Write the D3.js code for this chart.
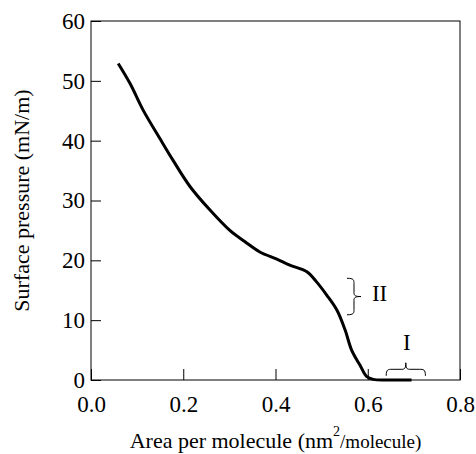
<!DOCTYPE html>
<html>
<head>
<meta charset="utf-8">
<script src="https://cdn.jsdelivr.net/npm/d3@7"></script>
<style>
  body { margin: 0; background: #fff; }
  text { font-family: "Liberation Serif", "Times New Roman", serif; fill: #000; }
</style>
</head>
<body>
<svg id="chart"></svg>
<script>
// isotherm
const area = [0.059, 0.085, 0.113, 0.149, 0.178, 0.215, 0.258, 0.301, 0.334, 0.366, 0.403, 0.431, 0.468, 0.489, 0.511, 0.533, 0.551, 0.565, 0.583, 0.598, 0.612, 0.64, 0.695]
const pressure = [52.9, 49.5, 45.1, 40.4, 36.7, 32.3, 28.4, 25.0, 23.1, 21.4, 20.2, 19.2, 18.1, 16.4, 14.2, 11.7, 8.35, 5.0, 2.5, 0.55, 0.1, 0.0, 0.0]
const xTicks = [0, 0.2, 0.4, 0.6, 0.8]
const yTicks = [0, 10, 20, 30, 40, 50, 60]
const regionLabels = ["II", "I"]

const w = 476
const h = 454
const margin = { top: 21, right: 16, bottom: 74, left: 91 }

const svg = d3.select("#chart").attr("width", w).attr("height", h)

const x = d3.scaleLinear().domain([0, 0.8]).range([margin.left, w - margin.right])
const y = d3.scaleLinear().domain([0, 60]).range([h - margin.bottom, margin.top])

// frame
svg.append("rect")
  .attr("x", x(0)).attr("y", y(60))
  .attr("width", x(0.8) - x(0)).attr("height", y(0) - y(60))
  .attr("fill", "none").attr("stroke", "#000").attr("stroke-width", 1)

const xAxis = d3.axisBottom(x).tickValues(xTicks).tickFormat(d3.format(".1f"))
  .tickSizeInner(-11).tickSizeOuter(0).tickPadding(16)
const yAxis = d3.axisLeft(y).tickValues(yTicks)
  .tickSizeInner(-10).tickSizeOuter(0).tickPadding(16)

const gx = svg.append("g").attr("transform", `translate(0,${y(0)})`).call(xAxis)
const gy = svg.append("g").attr("transform", `translate(${x(0)},0)`).call(yAxis)
gx.select(".domain").remove()
gy.select(".domain").remove()
svg.selectAll(".tick text").attr("font-family", "Liberation Serif").attr("font-size", 23)
svg.selectAll(".tick line").attr("stroke", "#000")
gy.selectAll(".tick text").attr("x", -6)

// curve
const line = d3.line().x((d, i) => x(area[i])).y(d => y(d)).curve(d3.curveCatmullRom.alpha(0.5))
svg.append("path")
  .datum(pressure)
  .attr("d", line)
  .attr("fill", "none").attr("stroke", "#000").attr("stroke-width", 3)

// curly brace from (x1,y1) to (x2,y2), tip on the left of the direction of travel
function brace(x1, y1, x2, y2, depth) {
  const len = Math.hypot(x2 - x1, y2 - y1)
  const ux = (x2 - x1) / len, uy = (y2 - y1) / len
  const nx = uy, ny = -ux
  const p = (t, d) => [x1 + ux * t + nx * d, y1 + uy * t + ny * d]
  const m = len / 2
  const half = depth * 0.5
  return `M${p(0, 0)}C${p(0, half)} ${p(m * 0.1, half)} ${p(m * 0.3, half)}` +
    `L${p(m * 0.8, half)}C${p(m * 0.95, half)} ${p(m, depth * 0.6)} ${p(m, depth)}` +
    `C${p(m, depth * 0.6)} ${p(len - m * 0.95, half)} ${p(len - m * 0.8, half)}` +
    `L${p(len - m * 0.3, half)}C${p(len - m * 0.1, half)} ${p(len, half)} ${p(len, 0)}`
}

// II: vertical brace pointing right
svg.append("path")
  .attr("d", brace(x(0.555), y(17.0), x(0.555), y(10.9), 14))
  .attr("fill", "none").attr("stroke", "#000").attr("stroke-width", 1)
svg.append("text")
  .attr("x", x(0.609)).attr("y", y(14.6)).attr("dy", "0.35em")
  .attr("font-size", 23).text(regionLabels[0])

// I: horizontal brace pointing up
svg.append("path")
  .attr("d", brace(x(0.64), y(0.7), x(0.725), y(0.7), 13))
  .attr("fill", "none").attr("stroke", "#000").attr("stroke-width", 1)
svg.append("text")
  .attr("x", x(0.685)).attr("y", y(6.3)).attr("dy", "0.35em")
  .attr("text-anchor", "middle")
  .attr("font-size", 23).text(regionLabels[1])

// axis titles
const xt = svg.append("text")
  .attr("x", (x(0) + x(0.8)) / 2).attr("y", 448)
  .attr("text-anchor", "middle").attr("font-size", 22)
xt.append("tspan").text("Area per molecule (nm")
xt.append("tspan").attr("font-size", 14).attr("dy", -12).text("2")
xt.append("tspan").attr("font-size", 19).attr("dy", 12).text("/molecule)")

svg.append("text")
  .attr("transform", `translate(29,${(y(0) + y(60)) / 2}) rotate(-90)`)
  .attr("text-anchor", "middle").attr("font-size", 22)
  .text("Surface pressure (mN/m)")
</script>
</body>
</html>
